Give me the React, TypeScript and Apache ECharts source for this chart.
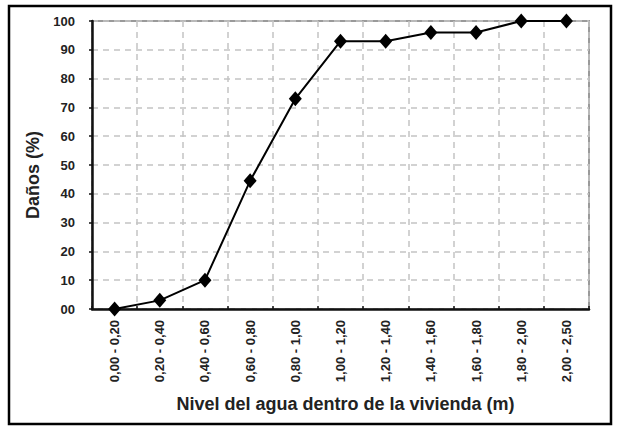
import React, { useEffect, useRef } from "react";
import * as echarts from "echarts";

const categories = [
  "0,00 - 0,20",
  "0,20 - 0,40",
  "0,40 - 0,60",
  "0,60 - 0,80",
  "0,80 - 1,00",
  "1,00 - 1,20",
  "1,20 - 1,40",
  "1,40 - 1,60",
  "1,60 - 1,80",
  "1,80 - 2,00",
  "2,00 - 2,50",
];
const damages = [0, 3, 10, 44.5, 73, 93, 93, 96, 96, 100, 100];
const yTicksMin = 0;
const yTicksMax = 100;
const yTickStep = 10;
const xAxisTitle = "Nivel del agua dentro de la vivienda (m)";
const yAxisTitle = "Daños (%)";

const FONT = "'Liberation Sans Narrow', 'Liberation Sans', Arial, sans-serif";

export default function App() {
  const ref = useRef<HTMLDivElement>(null);
  useEffect(() => {
    if (!ref.current) return;
    const chart = echarts.init(ref.current, null, { renderer: "svg" });
    chart.setOption({
      animation: false,
      backgroundColor: "#ffffff",
      grid: {
        left: 92,
        right: 29,
        top: 21,
        bottom: 119,
        show: true,
        borderColor: "#9a9a9a",
        borderWidth: 2,
      },
      graphic: [
        {
          type: "rect",
          shape: { x: 9, y: 6, width: 602, height: 418 },
          style: { fill: "none", stroke: "#000", lineWidth: 2.5 },
          silent: true,
        },
      ],
      xAxis: {
        type: "category",
        data: categories,
        boundaryGap: true,
        name: xAxisTitle,
        nameLocation: "middle",
        nameGap: 86,
        nameTextStyle: {
          fontFamily: FONT,
          fontWeight: "bold",
          fontSize: 18,
          color: "#222",
          padding: [0, 0, 0, 10],
        },
        axisLine: { show: true, lineStyle: { color: "#111", width: 2.5 } },
        axisTick: { show: true, length: 3, inside: true, lineStyle: { color: "#111", width: 1.5 } },
        axisLabel: {
          rotate: 90,
          margin: 11,
          fontFamily: FONT,
          fontWeight: "bold",
          fontSize: 13,
          color: "#222",
        },
        splitLine: {
          show: true,
          lineStyle: { color: "#c4c4c4", type: [6, 5], width: 1.5 },
        },
      },
      yAxis: {
        type: "value",
        min: yTicksMin,
        max: yTicksMax,
        interval: yTickStep,
        name: yAxisTitle,
        nameLocation: "middle",
        nameGap: 47,
        nameRotate: 90,
        nameTextStyle: {
          fontFamily: FONT,
          fontWeight: "bold",
          fontSize: 18,
          color: "#222",
          padding: [0, 20, 0, 0],
        },
        axisLine: { show: true, lineStyle: { color: "#111", width: 2.5 } },
        axisTick: { show: true, length: 3, lineStyle: { color: "#111", width: 1.5 } },
        axisLabel: {
          margin: 17,
          fontFamily: FONT,
          fontWeight: "bold",
          fontSize: 13,
          color: "#222",
          formatter: (v: number) => (v === 0 ? "00" : String(v)),
        },
        splitLine: {
          show: true,
          lineStyle: { color: "#c4c4c4", type: [6, 5], width: 1.5 },
        },
      },
      series: [
        {
          type: "line",
          data: damages,
          symbol: "diamond",
          symbolSize: [13, 15],
          itemStyle: { color: "#000" },
          lineStyle: { color: "#000", width: 2 },
        },
      ],
    });
    return () => chart.dispose();
  }, []);
  return (
    <div
      ref={ref}
      style={{ position: "absolute", left: 0, top: 0, width: 618, height: 428 }}
    />
  );
}
